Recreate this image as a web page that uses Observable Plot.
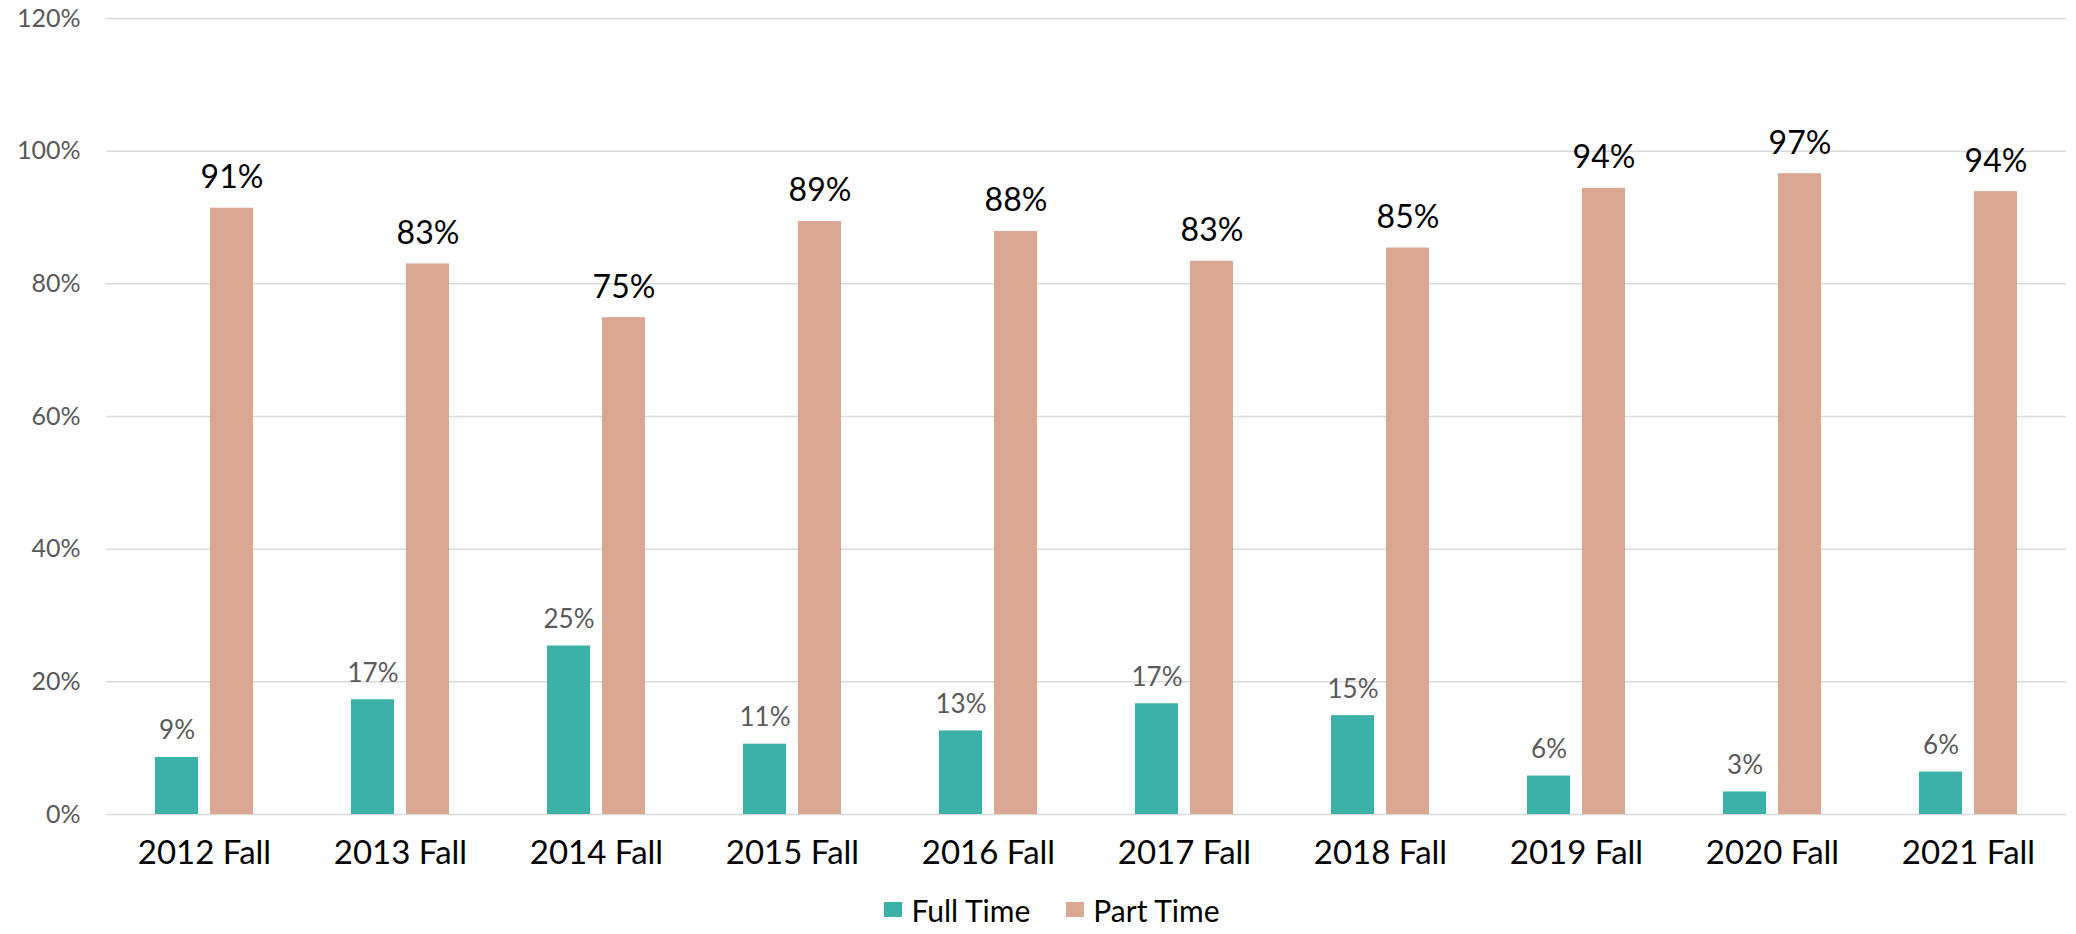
<!DOCTYPE html>
<html>
<head>
<meta charset="utf-8">
<script src="https://cdn.jsdelivr.net/npm/d3@7"></script>
<script src="https://cdn.jsdelivr.net/npm/@observablehq/plot@0.6"></script>
<style>
  html, body { margin: 0; padding: 0; background: #fff; }
  body { width: 2076px; height: 934px; overflow: hidden; font-family: Lato, "Noto Sans", sans-serif; }
  #legend { display: flex; justify-content: center; align-items: center; height: 49px; padding-left: 28px; font-size: 30px; color: #000; }
  .item { display: flex; align-items: center; margin: 0 18px; }
  .sw { width: 18px; height: 15px; margin-right: 9px; }
</style>
</head>
<body>
<div id="chart"></div>
<div id="legend"></div>
<script>
const years = ["2012 Fall","2013 Fall","2014 Fall","2015 Fall","2016 Fall","2017 Fall","2018 Fall","2019 Fall","2020 Fall","2021 Fall"];
const series = ["Full Time","Part Time"];
const fullTime = [8.6, 17.3, 25.4, 10.6, 12.6, 16.7, 14.9, 5.8, 3.4, 6.4];
const partTime = [91.4, 83.0, 74.9, 89.4, 87.9, 83.4, 85.4, 94.4, 96.6, 93.9];
const yTicks = [0, 20, 40, 60, 80, 100, 120];
const colors = ["#3cb1a8", "#daa792"];

const data = [];
years.forEach((y, i) => {
  data.push({year: y, series: series[0], value: fullTime[i]});
  data.push({year: y, series: series[1], value: partTime[i]});
});
const ft = data.filter(d => d.series === series[0]);
const pt = data.filter(d => d.series === series[1]);

const chart = Plot.plot({
  width: 2076,
  height: 885,
  marginTop: 18,
  marginBottom: 71,
  marginLeft: 103,
  marginRight: 8,
  style: {fontFamily: "Lato, 'Noto Sans', sans-serif", background: "#fff"},
  fx: {domain: years, padding: 0, label: null, axis: "bottom", tickSize: 0, tickPadding: 26},
  x: {domain: series, paddingInner: 0.214, paddingOuter: 0.8625, axis: null},
  y: {domain: [0, 120], ticks: yTicks, tickFormat: d => d + "%", label: null, tickSize: 0, tickPadding: 26},
  color: {domain: series, range: colors},
  marks: [
    Plot.gridY(yTicks, {stroke: "#d9d9d9", strokeOpacity: 1, strokeWidth: 1.5}),
    Plot.barY(data, {fx: "year", x: "series", y: "value", fill: "series"}),
    Plot.text(ft, {fx: "year", x: "series", y: "value", text: d => Math.round(d.value) + "%", lineAnchor: "bottom", dy: -18, fontSize: 26, fill: "#595959"}),
    Plot.text(pt, {fx: "year", x: "series", y: "value", text: d => Math.round(d.value) + "%", lineAnchor: "bottom", dy: -20, fontSize: 32, fill: "#000"})
  ]
});
document.getElementById("chart").appendChild(chart);

d3.select(chart).selectAll("g[aria-label='fx-axis tick label']").attr("font-size", 33).attr("fill", "#000");
d3.select(chart).selectAll("g[aria-label='y-axis tick label']").attr("font-size", 25).attr("fill", "#595959");

const legend = d3.select("#legend");
series.forEach((s, i) => {
  const it = legend.append("div").attr("class", "item");
  it.append("div").attr("class", "sw").style("background", colors[i]);
  it.append("span").text(s);
});
</script>
</body>
</html>
